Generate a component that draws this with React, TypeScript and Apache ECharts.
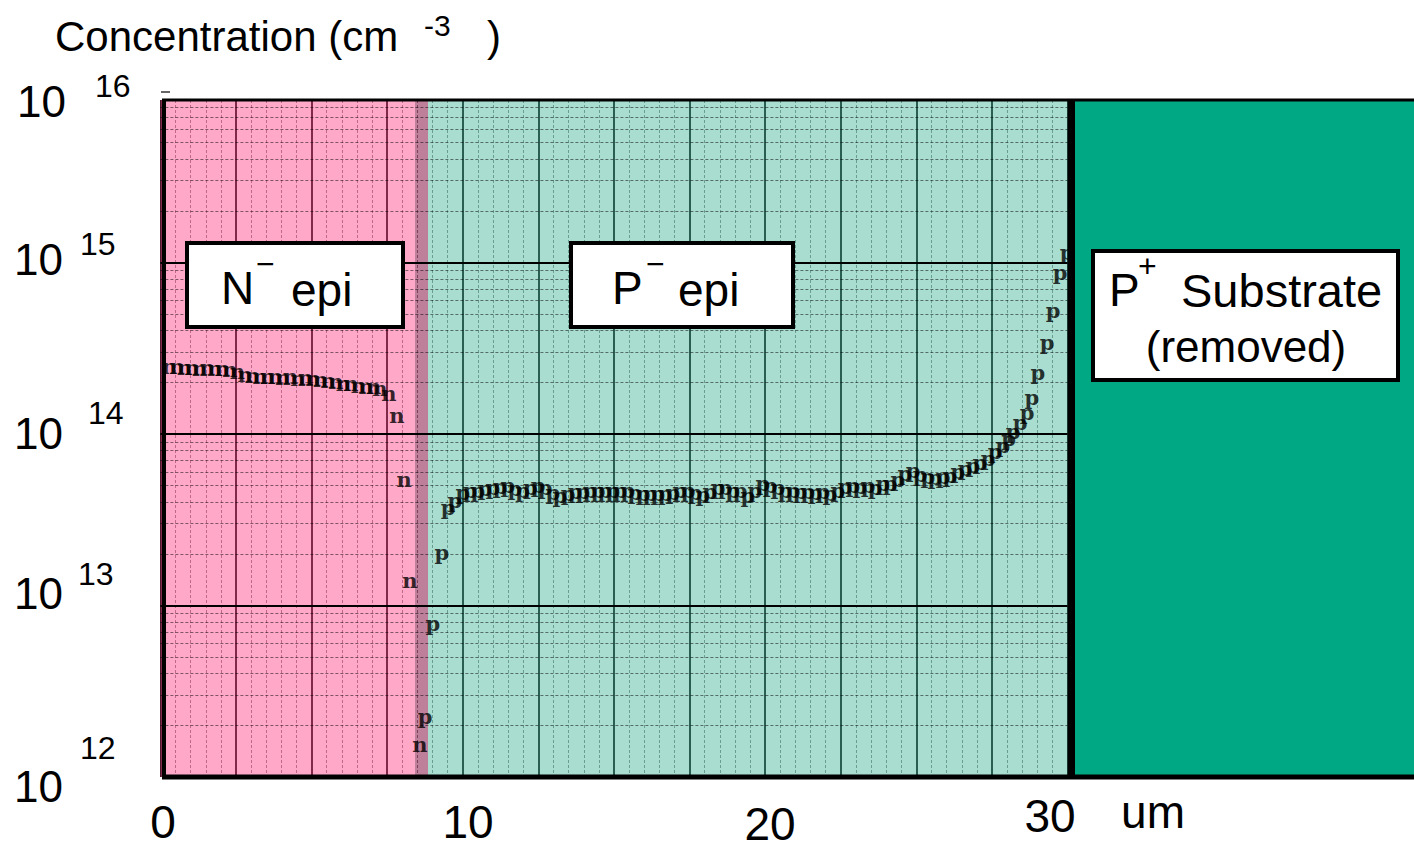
import React, { useEffect, useRef } from 'react';
import * as echarts from 'echarts';

// ---- axis ranges (um, cm^-3) ----
const X_MIN = 0;
const X_MAX = 30;
const Y_MIN = 1e12;
const Y_MAX = 8.86e15;

// ---- regions (um) ----
const N_EPI_END = 8.42;
const JUNCTION_END = 8.85;

// ---- n-type measured profile ----
const N_X = [0.3, 0.55, 0.8, 1.05, 1.3, 1.55, 1.8, 2.05, 2.3, 2.55, 2.8, 3.05, 3.3, 3.55, 3.8, 4.05, 4.3, 4.55, 4.8, 5.05, 5.3, 5.55, 5.8, 6.05, 6.3, 6.55, 6.8, 7.05, 7.26, 7.56, 7.82, 8.06, 8.25, 8.58];
const N_Y = [2.49e14, 2.48e14, 2.45e14, 2.44e14, 2.42e14, 2.43e14, 2.41e14, 2.4e14, 2.38e14, 2.32e14, 2.22e14, 2.18e14, 2.15e14, 2.17e14, 2.15e14, 2.14e14, 2.15e14, 2.11e14, 2.13e14, 2.11e14, 2.08e14, 2.04e14, 2.01e14, 1.98e14, 1.96e14, 1.93e14, 1.9e14, 1.88e14, 1.85e14, 1.73e14, 1.29e14, 5.4e13, 1.39e13, 1.54e12];

// ---- p-type measured profile ----
const P_X = [8.75, 9.01, 9.31, 9.51, 9.74, 10.0, 10.24, 10.5, 10.73, 10.99, 11.23, 11.49, 11.72, 11.98, 12.23, 12.49, 12.72, 12.98, 13.21, 13.48, 13.71, 13.97, 14.21, 14.47, 14.7, 14.96, 15.2, 15.46, 15.69, 15.96, 16.19, 16.45, 16.69, 16.95, 17.18, 17.45, 17.68, 17.94, 18.17, 18.44, 18.67, 18.93, 19.17, 19.43, 19.66, 19.92, 20.16, 20.42, 20.66, 20.92, 21.15, 21.41, 21.65, 21.91, 22.14, 22.4, 22.64, 22.9, 23.13, 23.4, 23.63, 23.89, 24.13, 24.39, 24.62, 24.89, 25.12, 25.38, 25.61, 25.88, 26.11, 26.37, 26.61, 26.87, 27.1, 27.37, 27.6, 27.86, 28.05, 28.2, 28.43, 28.66, 28.82, 29.02, 29.32, 29.52, 29.75, 29.98];
const P_Y = [2.24e12, 7.9e12, 2.05e13, 3.75e13, 4.12e13, 4.53e13, 4.67e13, 4.71e13, 4.78e13, 4.85e13, 4.92e13, 5.0e13, 4.78e13, 4.67e13, 4.85e13, 5.0e13, 4.85e13, 4.53e13, 4.36e13, 4.47e13, 4.6e13, 4.6e13, 4.67e13, 4.67e13, 4.71e13, 4.71e13, 4.67e13, 4.67e13, 4.53e13, 4.47e13, 4.47e13, 4.47e13, 4.47e13, 4.53e13, 4.67e13, 4.71e13, 4.53e13, 4.41e13, 4.6e13, 4.85e13, 4.85e13, 4.71e13, 4.67e13, 4.36e13, 4.71e13, 5.12e13, 5.0e13, 4.85e13, 4.71e13, 4.71e13, 4.6e13, 4.6e13, 4.53e13, 4.6e13, 4.47e13, 4.67e13, 4.92e13, 5.0e13, 4.92e13, 5.0e13, 4.85e13, 5.12e13, 5.12e13, 5.4e13, 5.9e13, 6.15e13, 5.8e13, 5.67e13, 5.61e13, 5.67e13, 5.74e13, 6.06e13, 6.3e13, 6.59e13, 6.86e13, 7.24e13, 7.95e13, 8.6e13, 9.4e13, 1.03e14, 1.16e14, 1.33e14, 1.64e14, 2.27e14, 3.4e14, 5.28e14, 8.7e14, 1.15e15];

// ---- grid levels ----
const DECADES = [1e12, 1e13, 1e14, 1e15];
const MAJOR_LEVELS = [1e13, 1e14, 1e15];
const MINOR_MULT = [2, 3, 4, 5, 6, 7, 8, 9];

// ---- labels ----
const Y_TICK_LABELS = [
  { base: '10', exp: '16', bx: 17, by: 101, ex: 95, ey: 86 },
  { base: '10', exp: '15', bx: 14, by: 259, ex: 80, ey: 244 },
  { base: '10', exp: '14', bx: 14, by: 433, ex: 88, ey: 413 },
  { base: '10', exp: '13', bx: 14, by: 593, ex: 78, ey: 574 },
  { base: '10', exp: '12', bx: 14, by: 786, ex: 80, ey: 748 },
];
const X_TICK_LABELS = [
  { text: '0', x: 163, y: 822 },
  { text: '10', x: 468, y: 822 },
  { text: '20', x: 770, y: 824 },
  { text: '30', x: 1050, y: 816 },
];
const X_UNIT = 'um';
const Y_TITLE = 'Concentration (cm';
const Y_TITLE_EXP = '-3';

const SANS = '"Liberation Sans", Arial, sans-serif';
const MARK_FONT = '"DejaVu Serif", serif';

function txt(text: string, x: number, y: number, size: number, align: string = 'left', vAlign: string = 'middle') {
  return {
    type: 'text',
    x,
    y,
    z: 120,
    silent: true,
    style: {
      text,
      fill: '#000',
      fontSize: size,
      fontFamily: SANS,
      lineHeight: Math.round(size * 0.9),
      align,
      verticalAlign: vAlign,
    },
  };
}

export default function App() {
  const ref = useRef<HTMLDivElement>(null);

  useEffect(() => {
    document.body.style.margin = '0';
    const chart = echarts.init(ref.current as HTMLDivElement, null, { renderer: 'svg' });

    const minorLevels: number[] = [];
    DECADES.forEach((d) => MINOR_MULT.forEach((m) => {
      if (m * d < Y_MAX) minorLevels.push(m * d);
    }));

    const graphics: any[] = [];
    // substrate panel
    graphics.push({
      type: 'rect', z: 100, silent: true,
      shape: { x: 1073, y: 100, width: 341, height: 677 },
      style: { fill: '#00A884' },
    });
    // borders
    graphics.push({ type: 'line', z: 110, silent: true, shape: { x1: 162, y1: 100, x2: 1414, y2: 100 }, style: { stroke: '#000', lineWidth: 3 } });
    graphics.push({ type: 'line', z: 110, silent: true, shape: { x1: 162, y1: 777, x2: 1414, y2: 777 }, style: { stroke: '#000', lineWidth: 5 } });
    graphics.push({ type: 'line', z: 110, silent: true, shape: { x1: 164, y1: 99, x2: 164, y2: 779 }, style: { stroke: '#000', lineWidth: 4 } });
    graphics.push({ type: 'line', z: 110, silent: true, shape: { x1: 1072, y1: 99, x2: 1072, y2: 779 }, style: { stroke: '#000', lineWidth: 6 } });
    graphics.push({ type: 'line', z: 110, silent: true, shape: { x1: 161, y1: 92, x2: 170, y2: 92 }, style: { stroke: '#666', lineWidth: 2 } });

    // label boxes
    const box = (x: number, y: number, w: number, h: number) => ({
      type: 'rect', z: 115, silent: true,
      shape: { x, y, width: w, height: h },
      style: { fill: '#fff', stroke: '#000', lineWidth: 4 },
    });
    graphics.push(box(187, 243, 216, 84));
    graphics.push(txt('N', 221, 288, 46));
    graphics.push(txt('−', 256, 264, 32));
    graphics.push(txt('epi', 291, 290, 46));

    graphics.push(box(571, 243, 222, 84));
    graphics.push(txt('P', 612, 288, 46));
    graphics.push(txt('−', 646, 264, 32));
    graphics.push(txt('epi', 678, 290, 46));

    graphics.push(box(1093, 251, 305, 129));
    graphics.push(txt('P', 1109, 290, 46));
    graphics.push(txt('+', 1138, 266, 32));
    graphics.push(txt('Substrate', 1181, 290, 47));
    graphics.push(txt('(removed)', 1246, 346, 44, 'center'));

    // title
    graphics.push(txt(Y_TITLE, 55, 36, 42));
    graphics.push(txt(Y_TITLE_EXP, 424, 25, 30));
    graphics.push(txt(')', 487, 36, 42));

    // y tick labels
    Y_TICK_LABELS.forEach((l) => {
      graphics.push(txt(l.base, l.bx, l.by, 44));
      graphics.push(txt(l.exp, l.ex, l.ey, 32));
    });
    // x tick labels
    X_TICK_LABELS.forEach((l) => graphics.push(txt(l.text, l.x, l.y, 46, 'center')));
    graphics.push(txt(X_UNIT, 1153, 812, 46, 'center'));

    const markerSeries = (name: string, xs: number[], ys: number[], ch: string) => ({
      name,
      type: 'scatter',
      z: 5,
      symbol: 'circle',
      symbolSize: 1,
      itemStyle: { color: 'rgba(0,0,0,0)' },
      silent: true,
      data: xs.map((x, i) => [x, ys[i]]),
      label: {
        show: true,
        position: 'inside',
        formatter: ch,
        fontFamily: MARK_FONT,
        fontSize: 21,
        fontWeight: 'bold',
        color: '#000',
      },
    });

    chart.setOption({
      animation: false,
      backgroundColor: '#fff',
      grid: { left: 160.4, right: 346.4, top: 100, bottom: 70, containLabel: false },
      xAxis: {
        type: 'value',
        min: X_MIN,
        max: X_MAX,
        interval: 2.5,
        axisLine: { show: false },
        axisTick: { show: false },
        axisLabel: { show: false },
        splitLine: { show: true, lineStyle: { color: '#000', width: 2 } },
        minorTick: { show: false, splitNumber: 5 },
        minorSplitLine: { show: true, lineStyle: { color: 'rgba(0,0,0,0.5)', width: 1, type: [3, 2] } },
      },
      yAxis: {
        type: 'log',
        logBase: 10,
        min: Y_MIN,
        max: Y_MAX,
        axisLine: { show: false },
        axisTick: { show: false },
        axisLabel: { show: false },
        splitLine: { show: false },
      },
      graphic: { elements: graphics },
      series: [
        {
          name: 'minor-grid',
          type: 'line',
          z: 1,
          data: [],
          silent: true,
          markLine: {
            silent: true,
            symbol: ['none', 'none'],
            label: { show: false },
            lineStyle: { color: 'rgba(0,0,0,0.5)', width: 1, type: [3, 2] },
            data: minorLevels.map((v) => ({ yAxis: v })),
          },
        },
        {
          name: 'major-grid',
          type: 'line',
          z: 1,
          data: [],
          silent: true,
          markLine: {
            silent: true,
            symbol: ['none', 'none'],
            label: { show: false },
            lineStyle: { color: '#000', width: 2, type: 'solid' },
            data: MAJOR_LEVELS.map((v) => ({ yAxis: v })),
          },
        },
        markerSeries('n', N_X, N_Y, 'n'),
        markerSeries('p', P_X, P_Y, 'p'),
        {
          name: 'regions',
          type: 'line',
          z: 10,
          data: [],
          silent: true,
          markArea: {
            silent: true,
            data: [
              [{ xAxis: X_MIN, itemStyle: { color: 'rgba(255,81,145,0.5)' } }, { xAxis: N_EPI_END }],
              [{ xAxis: N_EPI_END, itemStyle: { color: 'rgba(125,0,55,0.5)' } }, { xAxis: JUNCTION_END }],
              [{ xAxis: JUNCTION_END, itemStyle: { color: 'rgba(81,187,159,0.5)' } }, { xAxis: X_MAX }],
            ],
          },
        },
      ],
    });

    return () => chart.dispose();
  }, []);

  return <div ref={ref} style={{ width: 1414, height: 847 }} />;
}
